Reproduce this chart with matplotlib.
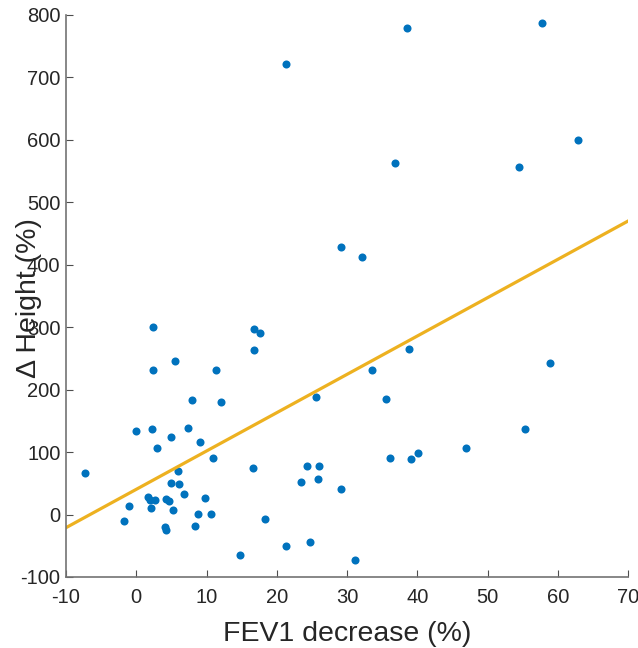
import matplotlib as mpl
mpl.use('agg')
import matplotlib.pyplot as plt
import numpy as np

plt.rcParams['font.family'] = ['Liberation Sans', 'DejaVu Sans']
plt.rcParams['axes.unicode_minus'] = False

# FEV1 decrease (%) and change in height (%)
fev1 = [-7.3, -1.7, -1.0, -0.1, 2.4, 2.4, 2.3, 2.9, 5.5, 5.0, 7.3, 7.9, 11.4, 12.0,
        9.1, 10.9, 5.9, 5.0, 6.1, 6.8, 1.7, 2.0, 2.7, 4.2, 4.7, 2.1, 5.2, 9.8,
        8.8, 10.7, 8.3, 4.1, 4.3, 14.8, 16.7, 17.6, 16.7, 16.6, 18.3, 21.3, 24.7,
        31.1, 23.4, 24.3, 26.0, 25.9, 29.2, 25.6, 33.6, 35.5, 38.8, 36.1, 39.1,
        40.1, 21.3, 38.6, 57.8, 62.9, 54.5, 36.8, 29.2, 32.1, 46.9, 55.3, 58.9]
dheight = [66, -11, 14, 134, 301, 231, 137, 106, 246, 124, 138, 183, 232, 180,
           116, 90, 70, 50, 49, 33, 28, 23, 23, 25, 22, 11, 8, 27,
           1, 1, -18, -20, -25, -65, 297, 290, 263, 74, -7, -50, -44,
           -72, 52, 78, 77, 57, 41, 189, 231, 185, 265, 90, 89,
           99, 722, 779, 787, 600, 556, 563, 429, 412, 106, 137, 242]

# fitted line end points
fit_x = [-10, 70]
fit_y = [-21, 470]

blue = (0, 0.447, 0.741)
gold = (0.929, 0.694, 0.125)
txt = (0.15, 0.15, 0.15)

fig = plt.figure(figsize=(6.38, 6.48), dpi=100)
ax = fig.add_axes([66/638, 1-577/648, 562/638, 562/648])

ax.plot(fev1, dheight, 'o', color=blue, markersize=5.8, markeredgewidth=0)
ax.plot(fit_x, fit_y, '-', color=gold, linewidth=2.3)

ax.set_xlim(-10, 70)
ax.set_ylim(-100, 800)
ax.set_xticks(np.arange(-10, 71, 10))
ax.set_yticks(np.arange(-100, 801, 100))

for s in ['top', 'right']:
    ax.spines[s].set_visible(False)
for s in ['left', 'bottom']:
    ax.spines[s].set_color((0.45, 0.45, 0.45))
    ax.spines[s].set_linewidth(1.2)

ax.tick_params(direction='in', length=5, width=0.8, color=(0.3, 0.3, 0.3),
               labelsize=14.5, labelcolor=txt)
ax.tick_params(axis='x', pad=8)
ax.tick_params(axis='y', pad=4)

ax.set_xlabel('FEV1 decrease (%)', fontsize=20.5, color=txt, labelpad=10)
ax.set_ylabel('\u0394 Height (%)', fontsize=20.5, color=txt)
ax.yaxis.set_label_coords(-0.043, 0.497)

plt.savefig('out.png', dpi=100)
